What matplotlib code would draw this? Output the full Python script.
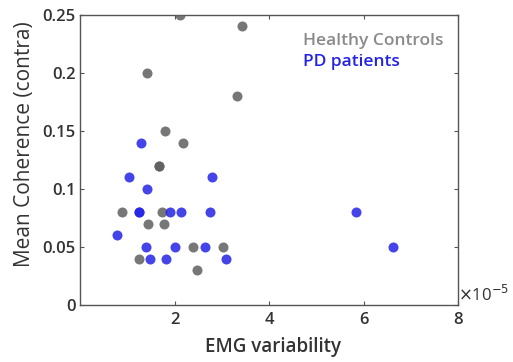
import matplotlib
matplotlib.use("Agg")
import matplotlib.pyplot as plt

plt.rcParams["font.family"] = ["Open Sans", "DejaVu Sans"]

# EMG variability (x1e-5) and mean coherence per subject
hc_x = [2.11, 3.42, 1.42, 3.32, 1.80, 2.17, 1.67, 1.67, 0.89, 1.73, 1.43, 1.78,
        2.40, 3.03, 1.25, 2.47]
hc_y = [0.25, 0.24, 0.20, 0.18, 0.15, 0.14, 0.12, 0.12, 0.08, 0.08, 0.07, 0.07,
        0.05, 0.05, 0.04, 0.03]

pd_x = [1.30, 1.04, 2.80, 1.41, 1.25, 1.25, 1.90, 2.13, 2.74, 0.79, 1.39, 2.00,
        2.65, 1.49, 1.81, 3.08, 5.83, 6.62]
pd_y = [0.14, 0.11, 0.11, 0.10, 0.08, 0.08, 0.08, 0.08, 0.08, 0.06, 0.05, 0.05,
        0.05, 0.04, 0.04, 0.04, 0.08, 0.05]

gray = "#5f5f5f"
blue = "#2323e6"
text_col = "#333333"

fig = plt.figure(figsize=(5.13, 3.62), dpi=100)
ax = fig.add_axes([0.156, 0.157, 0.737, 0.802])

ax.scatter(hc_x, hc_y, s=52, color=gray, alpha=0.85, linewidths=0, zorder=3)
ax.scatter(pd_x, pd_y, s=52, color=blue, alpha=0.85, linewidths=0, zorder=3)

ax.set_xlim(0, 8)
ax.set_ylim(0, 0.25)
ax.set_xticks([2, 4, 6, 8])
ax.set_yticks([0, 0.05, 0.1, 0.15, 0.2, 0.25])
ax.set_yticklabels(["0", "0.05", "0.1", "0.15", "0.2", "0.25"])
ax.tick_params(direction="in", length=3, width=0.8, color="#555555",
               labelsize=12, labelcolor=text_col, top=True, right=True)
ax.tick_params(axis="x", pad=5)
ax.tick_params(axis="y", pad=3)
for lab in ax.get_xticklabels() + ax.get_yticklabels():
    lab.set_fontweight("semibold")
for sp in ax.spines.values():
    sp.set_color("#555555")
    sp.set_linewidth(1.0)

ax.set_xlabel("EMG variability", fontsize=13.5, color=text_col, fontweight="semibold")
ax.xaxis.set_label_coords(0.51, -0.11)
ax.set_ylabel("Mean Coherence (contra)", fontsize=15, color=text_col)
ax.yaxis.set_label_coords(-0.12, 0.555)

ax.text(1.0, 0.0, r"$\times$10$^{-5}$", transform=ax.transAxes,
        fontsize=12, color=text_col, ha="left", va="bottom")

ax.text(0.59, 0.91, "Healthy Controls", transform=ax.transAxes,
        fontsize=12.5, color="#8a8a8a", ha="left", va="center", fontweight="semibold")
ax.text(0.59, 0.838, "PD patients", transform=ax.transAxes,
        fontsize=12.5, color=blue, ha="left", va="center", fontweight="semibold")

fig.savefig("out.png", dpi=100)
